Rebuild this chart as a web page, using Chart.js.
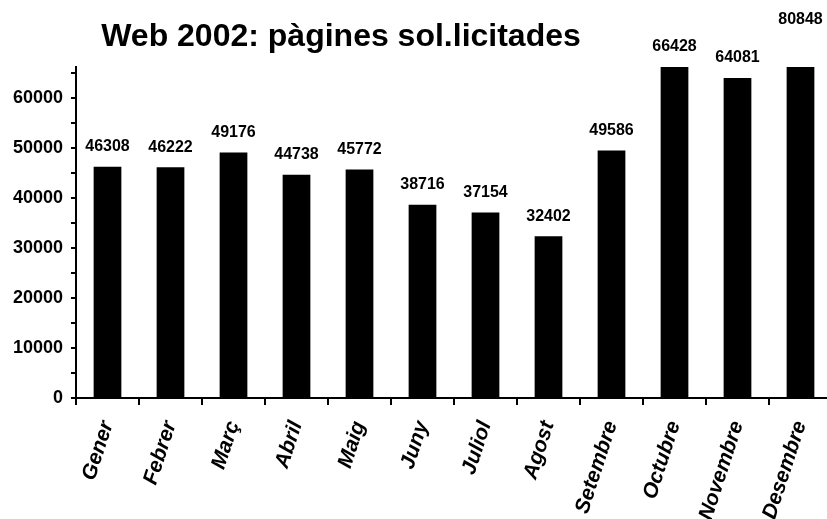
<!DOCTYPE html>
<html>
<head>
<meta charset="utf-8">
<script src="https://cdn.jsdelivr.net/npm/chart.js@4/dist/chart.umd.min.js"></script>
<style>
  html, body { margin: 0; padding: 0; background: #fff; overflow: hidden; }
  #wrap { position: relative; width: 827px; height: 519px; overflow: hidden; }
  #titol {
    position: absolute; left: 0; top: 17px; width: 682px; text-align: center;
    font: bold 32px "Liberation Sans", Arial, sans-serif; color: #000;
  }
  #box { position: absolute; left: 0; top: 0; width: 840px; height: 540px; }
</style>
</head>
<body>
<div id="wrap">
  <div id="box"><canvas id="grafic"></canvas></div>
  <div id="titol">Web 2002: pàgines sol.licitades</div>
</div>
<script>
// mesos i pàgines sol·licitades
const mesos = ["Gener", "Febrer", "Març", "Abril", "Maig", "Juny", "Juliol", "Agost", "Setembre", "Octubre", "Novembre", "Desembre"];
const pagines = [46308, 46222, 49176, 44738, 45772, 38716, 37154, 32402, 49586, 66428, 64081, 80848];
// marques de l'eix Y (les de 10000 porten etiqueta)
const marquesY = [0, 5000, 10000, 15000, 20000, 25000, 30000, 35000, 40000, 45000, 50000, 55000, 60000, 65000];
const etiquetesY = [0, 10000, 20000, 30000, 40000, 50000, 60000];

const FONT = '"Liberation Sans", Arial, sans-serif';

// etiquetes de valor damunt de cada barra
const etiquetes = {
    id: "etiquetes",
    afterDatasetsDraw(chart) {
        const ctx = chart.ctx;
        const meta = chart.getDatasetMeta(0);
        ctx.save();
        ctx.font = "bold 16px " + FONT;
        ctx.fillStyle = "#000";
        ctx.textAlign = "center";
        ctx.textBaseline = "middle";
        meta.data.forEach((bar, i) => {
            const yVal = chart.scales.y.getPixelForValue(pagines[i]);
            const y = Math.max(yVal - 20, 20);
            ctx.fillText(String(pagines[i]), bar.x, y);
        });
        ctx.restore();
    },
};

const ctx = document.getElementById("grafic").getContext("2d");
new Chart(ctx, {
    type: "bar",
    data: {
        labels: mesos,
        datasets: [{
            data: pagines,
            backgroundColor: "#000",
            borderWidth: 0,
            barPercentage: 0.44,
            categoryPercentage: 1,
        }],
    },
    options: {
        responsive: true,
        maintainAspectRatio: false,
        animation: false,
        layout: { padding: { top: 67, right: 8, left: 0, bottom: 0 } },
        plugins: {
            legend: { display: false },
            tooltip: { enabled: false },
        },
        scales: {
            x: {
                grid: {
                    offset: true,
                    drawOnChartArea: false,
                    color: "#000",
                    lineWidth: 2,
                    tickLength: 7,
                },
                border: { color: "#000", width: 2 },
                ticks: {
                    autoSkip: false,
                    minRotation: 72,
                    maxRotation: 72,
                    padding: 13,
                    color: "#000",
                    font: { family: FONT, size: 21, weight: "bold", style: "italic" },
                },
                afterFit: (scale) => { scale.height = 142; },
            },
            y: {
                min: 0,
                max: 66300,
                grid: {
                    drawOnChartArea: false,
                    color: "#000",
                    lineWidth: 2,
                    tickLength: 5,
                },
                border: { color: "#000", width: 2 },
                ticks: {
                    autoSkip: false,
                    padding: 8,
                    color: "#000",
                    font: { family: FONT, size: 18, weight: "bold" },
                    callback: (v) => etiquetesY.includes(v) ? String(v) : "",
                },
                afterBuildTicks: (scale) => {
                    scale.ticks = marquesY.map((v) => ({ value: v }));
                },
                afterFit: (scale) => { scale.width = 76; },
            },
        },
    },
    plugins: [etiquetes],
});
</script>
</body>
</html>
